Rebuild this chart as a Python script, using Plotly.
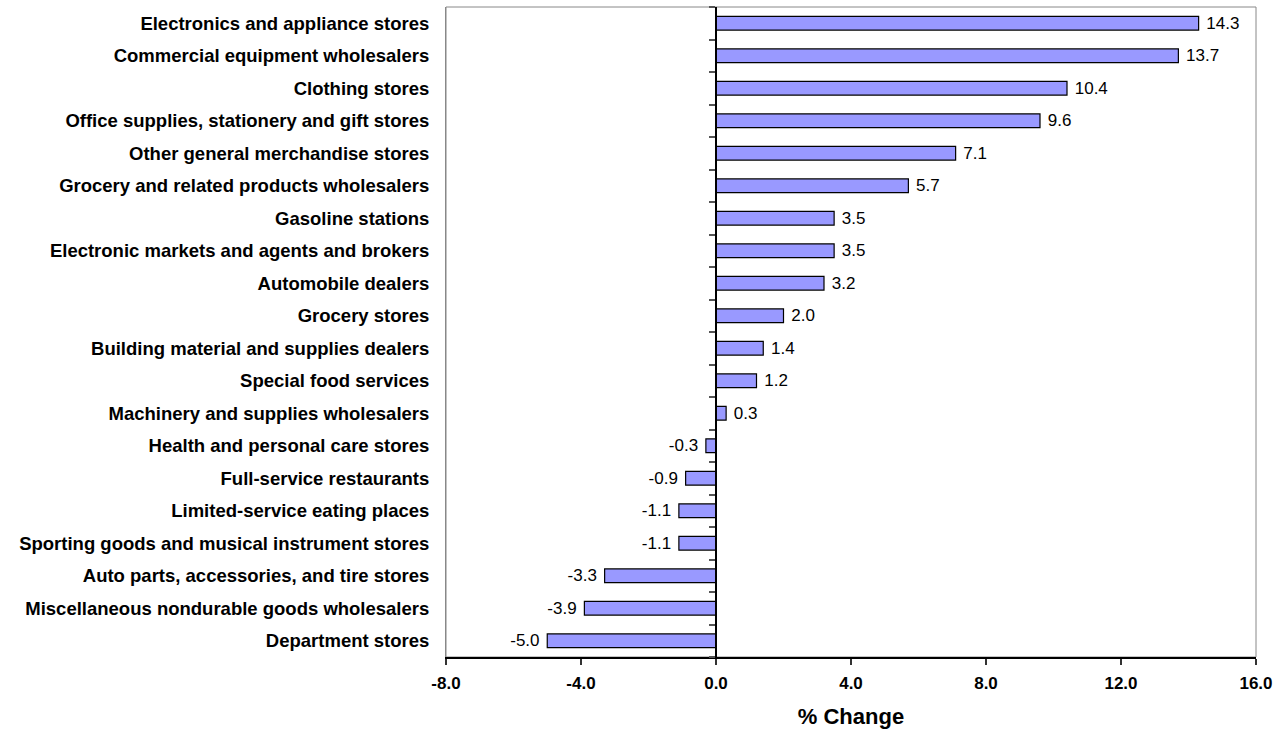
import plotly.graph_objects as go

categories = [
    "Electronics and appliance stores",
    "Commercial equipment wholesalers",
    "Clothing stores",
    "Office supplies, stationery and gift stores",
    "Other general merchandise stores",
    "Grocery and related products wholesalers",
    "Gasoline stations",
    "Electronic markets and agents and brokers",
    "Automobile dealers",
    "Grocery stores",
    "Building material and supplies dealers",
    "Special food services",
    "Machinery and supplies wholesalers",
    "Health and personal care stores",
    "Full-service restaurants",
    "Limited-service eating places",
    "Sporting goods and musical instrument stores",
    "Auto parts, accessories, and tire stores",
    "Miscellaneous nondurable goods wholesalers",
    "Department stores",
]
pct_change = [14.3, 13.7, 10.4, 9.6, 7.1, 5.7, 3.5, 3.5, 3.2, 2.0,
              1.4, 1.2, 0.3, -0.3, -0.9, -1.1, -1.1, -3.3, -3.9, -5.0]
x_ticks = [-8, -4, 0, 4, 8, 12, 16]
x_range = [-8, 16]

FONT = "Arial, Liberation Sans, sans-serif"
n = len(categories)
NBSP = "\u00a0"

labels = [(NBSP + f"{v:.1f}") if v >= 0 else (f"{v:.1f}" + NBSP) for v in pct_change]

fig = go.Figure()
fig.add_trace(go.Bar(
    x=pct_change, y=categories, orientation="h",
    marker=dict(color="#9999FF", line=dict(color="#000000", width=1.2)),
    width=0.42,
    text=labels,
    textposition="outside", cliponaxis=False, constraintext="none",
    textfont=dict(family=FONT, size=17, color="#000000"),
    hoverinfo="skip",
))
# invisible helper trace so the zero-line category axis (yaxis2) is drawn
fig.add_trace(go.Scatter(
    x=[0] * n, y=list(range(n)), yaxis="y2", mode="markers",
    marker=dict(opacity=0, size=1), hoverinfo="skip", showlegend=False,
))

zero_pos = (0 - x_range[0]) / (x_range[1] - x_range[0])

fig.update_layout(
    width=1282, height=730,
    margin=dict(l=446, r=26, t=7, b=73),
    plot_bgcolor="white", paper_bgcolor="white",
    showlegend=False,
    font=dict(family=FONT, color="#000000"),
    xaxis=dict(
        range=x_range, tickvals=x_ticks,
        ticktext=[f"{v:.1f}" for v in x_ticks],
        ticks="outside", ticklen=6, tickcolor="#333333", tickwidth=1.5,
        showline=True, linecolor="#000000", linewidth=1.5,
        showgrid=False, zeroline=False, automargin=False,
        ticklabelstandoff=4,
        tickfont=dict(family=FONT, size=17, color="#000000", weight="bold"),
        title=dict(text="% Change", font=dict(family=FONT, size=22, color="#000000", weight="bold"), standoff=16),
    ),
    yaxis=dict(
        type="category", categoryorder="array", categoryarray=categories,
        range=[n - 0.5, -0.5],
        showline=True, linecolor="#888888", linewidth=1,
        ticks="", showgrid=False, zeroline=False, automargin=False,
        ticklabelstandoff=12,
        tickfont=dict(family=FONT, size=18.5, color="#000000", weight="bold"),
    ),
    yaxis2=dict(
        overlaying="y", anchor="free", position=zero_pos, side="left",
        range=[n - 0.5, -0.5],
        tickmode="array", tickvals=[i - 0.5 for i in range(n + 1)],
        ticks="outside", ticklen=6, tickcolor="#555555", tickwidth=1.5,
        showticklabels=False, automargin=False,
        showline=True, linecolor="#000000", linewidth=1.5,
        showgrid=False, zeroline=False,
    ),
    shapes=[dict(type="rect", xref="x domain", yref="y domain",
                 x0=0, x1=1, y0=0, y1=1,
                 line=dict(color="#888888", width=1), layer="below")],
)

fig.write_html("out.html")
